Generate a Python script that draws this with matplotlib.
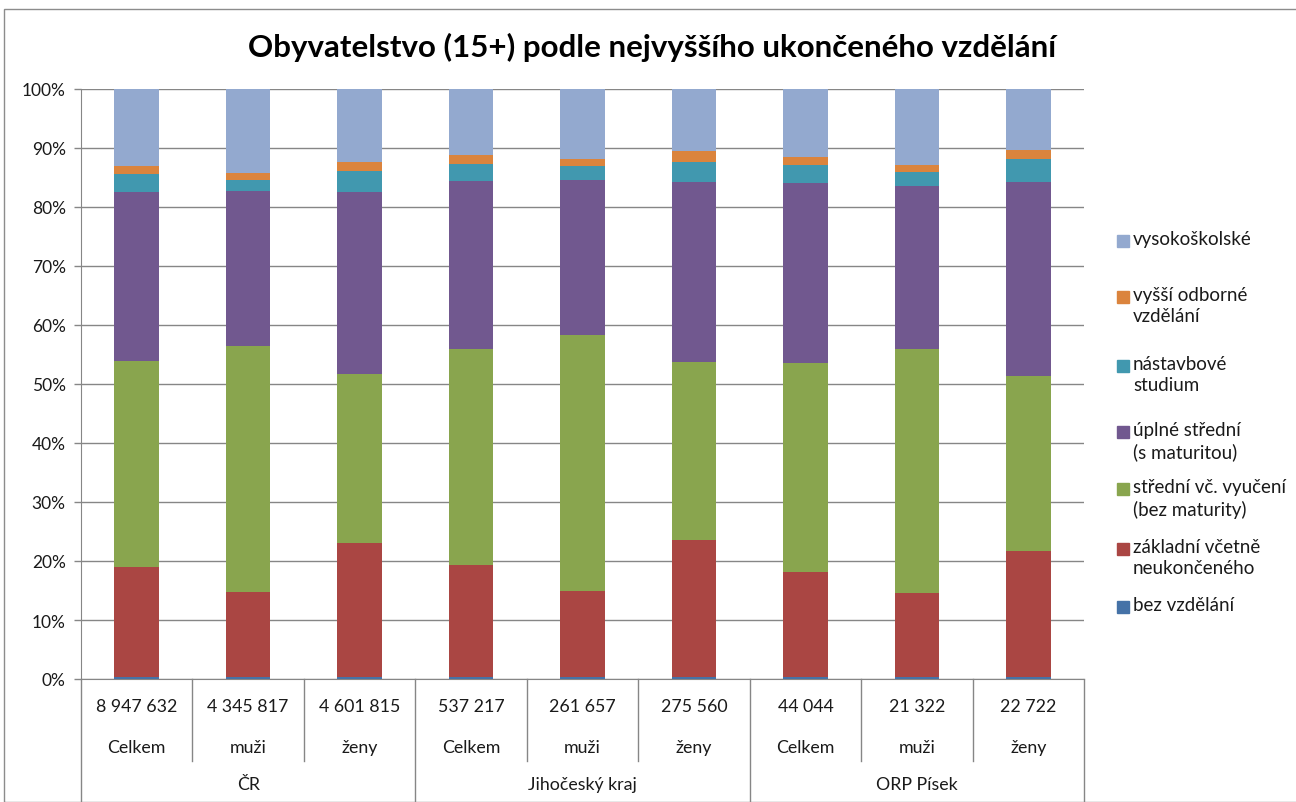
import numpy as np
import matplotlib
matplotlib.use("Agg")
import matplotlib.pyplot as plt
from matplotlib.patches import Rectangle

plt.rcParams['font.family'] = ['Lato', 'DejaVu Sans']

# data (shares in %)
groups = ['ČR', 'Jihočeský kraj', 'ORP Písek']
subcats = ['Celkem', 'muži', 'ženy'] * 3
totals = ['8 947 632', '4 345 817', '4 601 815', '537 217', '261 657',
          '275 560', '44 044', '21 322', '22 722']

bez_vzdelani = [0.4, 0.4, 0.4, 0.4, 0.4, 0.4, 0.4, 0.4, 0.4]
zakladni = [18.6, 14.3, 22.6, 18.9, 14.5, 23.2, 17.7, 14.2, 21.3]
stredni_bez = [34.9, 41.7, 28.7, 36.6, 43.4, 30.1, 35.5, 41.3, 29.7]
uplne_stredni = [28.6, 26.3, 30.8, 28.5, 26.3, 30.5, 30.5, 27.7, 32.8]
nastavbove = [3.1, 1.9, 3.6, 2.9, 2.3, 3.5, 3.0, 2.3, 3.9]
vyssi_odborne = [1.3, 1.2, 1.6, 1.5, 1.2, 1.8, 1.4, 1.3, 1.6]
vysokoskolske = [13.1, 14.2, 12.3, 11.2, 11.9, 10.5, 11.5, 12.8, 10.3]

series = [
    ('bez vzdělání', bez_vzdelani, '#4572A7'),
    ('základní včetně\nneukončeného', zakladni, '#AA4643'),
    ('střední vč. vyučení\n(bez maturity)', stredni_bez, '#89A54E'),
    ('úplné střední\n(s maturitou)', uplne_stredni, '#71588F'),
    ('nástavbové\nstudium', nastavbove, '#4198AF'),
    ('vyšší odborné\nvzdělání', vyssi_odborne, '#DB843D'),
    ('vysokoškolské', vysokoskolske, '#93A9CF'),
]

W, H = 1296, 803
fig = plt.figure(figsize=(W / 100, H / 100), dpi=100)
ax = fig.add_axes([81 / W, 1 - 680 / H, (1084 - 81) / W, 590 / H])

x = np.arange(len(totals))
bottom = np.zeros(len(totals))
for name, vals, col in series:
    v = np.array(vals) / 100.0
    ax.bar(x, v, width=0.4, bottom=bottom, color=col, zorder=3)
    bottom += v

ax.set_xlim(-0.5, len(totals) - 0.5)
ax.set_ylim(0, 1)
ax.set_yticks(np.arange(0, 1.01, 0.1))
ax.set_yticklabels([f'{int(round(t * 100))}%' for t in np.arange(0, 1.01, 0.1)],
                   fontsize=12.5, color='#1a1a1a')
ax.tick_params(axis='y', length=5, color='#868686', width=1, pad=6)
ax.set_xticks([])
ax.grid(axis='y', color='#868686', linewidth=1, zorder=0)
for s in ['top', 'right']:
    ax.spines[s].set_visible(False)
ax.spines['left'].set_color('#868686')
ax.spines['bottom'].set_color('#868686')

# category labels below axis
tr = ax.get_xaxis_transform()
for i in range(len(totals)):
    ax.text(i, -0.046, totals[i], transform=tr, ha='center', va='center',
            fontsize=12.8, color='#1a1a1a')
    ax.text(i, -0.116, subcats[i], transform=tr, ha='center', va='center',
            fontsize=12.8, color='#1a1a1a')
for g, name in enumerate(groups):
    ax.text(g * 3 + 1, -0.178, name, transform=tr, ha='center', va='center',
            fontsize=12.8, color='#1a1a1a')

# separators
for i in range(len(totals) + 1):
    xs = i - 0.5
    y_end = -0.21 if i % 3 == 0 else -0.139
    ax.plot([xs, xs], [0, y_end], transform=tr, color='#868686',
            linewidth=1, clip_on=False)

fig.text(652 / W, 1 - 47 / H, 'Obyvatelstvo (15+) podle nejvyššího ukončeného vzdělání',
         ha='center', va='center', fontsize=22.5, fontweight='bold', color='black')

# legend drawn as patches + text (top entry first)
legend_y = [608, 550, 490, 433, 367, 298, 242]
for (name, vals, col), ly in zip(series, legend_y):
    fig.patches.append(Rectangle((1117 / W, 1 - (ly + 6) / H), 12 / W, 12 / H,
                                 transform=fig.transFigure, color=col))
    fig.text(1133 / W, 1 - (ly - 11) / H, name, ha='left', va='top',
             fontsize=13.5, color='#1a1a1a', linespacing=1.3)

# chart frame
fig.patches.append(Rectangle((4 / W, 0), 1.2, 1 - 10 / H, transform=fig.transFigure,
                             fill=False, edgecolor='#8c8c8c', linewidth=1))

fig.savefig('out.png', dpi=100)
